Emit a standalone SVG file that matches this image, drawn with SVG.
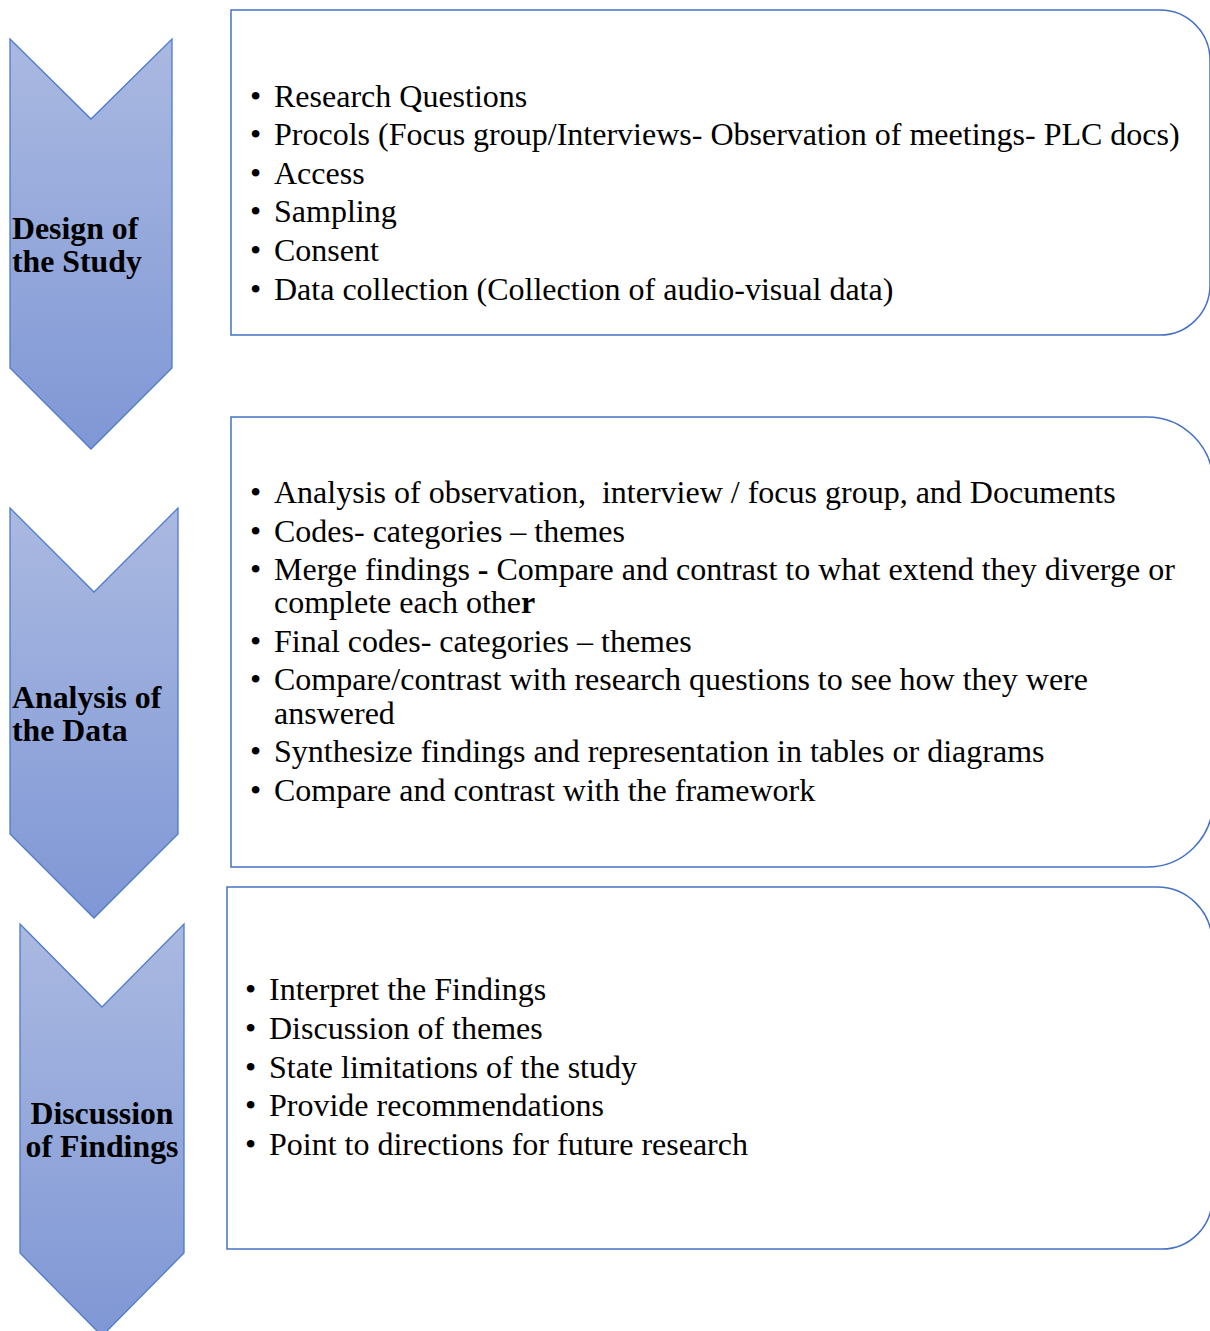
<svg xmlns="http://www.w3.org/2000/svg" width="1210" height="1331" viewBox="0 0 1210 1331">
<defs>
<linearGradient id="chev" x1="0" y1="0" x2="0" y2="1">
<stop offset="0" stop-color="#aab9e1"/>
<stop offset="1" stop-color="#7f97d5"/>
</linearGradient>
</defs>
<style>
.chev{fill:url(#chev);stroke:#4f7bcb;stroke-width:1.3}
.box{fill:#ffffff;stroke:#4472c4;stroke-width:1.5}
.t{font-family:"Liberation Serif","Times New Roman",serif;font-size:32px;fill:#000}
.h{font-family:"Liberation Serif","Times New Roman",serif;font-size:31.8px;font-weight:bold;fill:#000}
</style>
<rect width="1210" height="1331" fill="#ffffff"/>
<g id="connectors"></g>
<g id="chevron1">
<polygon class="chev" points="10,39 91,119 172,39 172,368 91,449 10,368"/>
<text class="h" x="12" y="239">Design of</text>
<text class="h" x="12" y="272">the Study</text>
</g>
<g id="chevron2">
<polygon class="chev" points="10,508 94,592 178,508 178,834 94,918 10,834"/>
<text class="h" x="12" y="708">Analysis of</text>
<text class="h" x="12" y="741">the Data</text>
</g>
<g id="chevron3">
<polygon class="chev" points="20,924 102,1007 184,924 184,1253 102,1336 20,1253"/>
<text class="h" x="102" y="1124" text-anchor="middle">Discussion</text>
<text class="h" x="102" y="1157" text-anchor="middle">of Findings</text>
</g>
<g id="box1">
<path class="box" d="M231,10 H1160 A50,50 0 0 1 1210,60 V285 A50,50 0 0 1 1160,335 H231 Z"/>
<g class="t">
<text x="250" y="107">•</text><text x="274" y="107">Research Questions</text>
<text x="250" y="145">•</text><text x="274" y="145">Procols (Focus group/Interviews- Observation of meetings- PLC docs)</text>
<text x="250" y="184">•</text><text x="274" y="184">Access</text>
<text x="250" y="222">•</text><text x="274" y="222">Sampling</text>
<text x="250" y="261">•</text><text x="274" y="261">Consent</text>
<text x="250" y="300">•</text><text x="274" y="300">Data collection (Collection of audio-visual data)</text>
</g>
</g>
<g id="box2">
<path class="box" d="M231,417 H1147 A66,66 0 0 1 1213,483 V801 A66,66 0 0 1 1147,867 H231 Z"/>
<g class="t">
<text x="250" y="503">•</text><text x="274" y="503" xml:space="preserve">Analysis of observation,  interview / focus group, and Documents</text>
<text x="250" y="542">•</text><text x="274" y="542">Codes- categories – themes</text>
<text x="250" y="580">•</text><text x="274" y="580">Merge findings <tspan font-weight="bold">-</tspan> Compare and contrast to what extend they diverge or</text>
<text x="274" y="613">complete each othe<tspan font-weight="bold">r</tspan></text>
<text x="250" y="652">•</text><text x="274" y="652">Final codes- categories – themes</text>
<text x="250" y="690">•</text><text x="274" y="690">Compare/contrast with research questions to see how they were</text>
<text x="274" y="724">answered</text>
<text x="250" y="762">•</text><text x="274" y="762">Synthesize findings and representation in tables or diagrams</text>
<text x="250" y="801">•</text><text x="274" y="801">Compare and contrast with the framework</text>
</g>
</g>
<g id="box3">
<path class="box" d="M227,887 H1157 A55,55 0 0 1 1212,942 V1199 A50,50 0 0 1 1162,1249 H227 Z"/>
<g class="t">
<text x="245" y="1000">•</text><text x="269" y="1000">Interpret the Findings</text>
<text x="245" y="1039">•</text><text x="269" y="1039">Discussion of themes</text>
<text x="245" y="1078">•</text><text x="269" y="1078">State limitations of the study</text>
<text x="245" y="1116">•</text><text x="269" y="1116">Provide recommendations</text>
<text x="245" y="1155">•</text><text x="269" y="1155">Point to directions for future research</text>
</g>
</g>
</svg>
